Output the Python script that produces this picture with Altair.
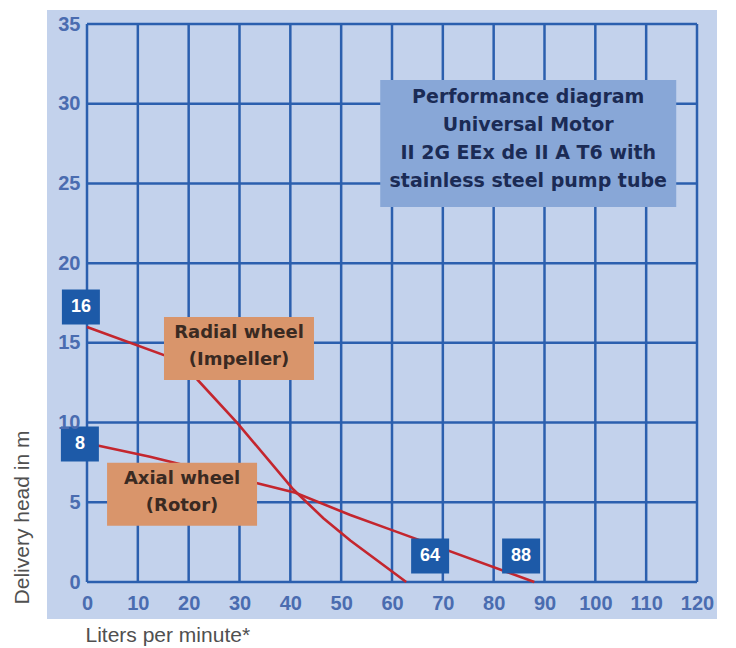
import altair as alt
import pandas as pd

# ---- data ----
radial_flow = [0, 15.4, 21.7, 29.5, 40.6, 46.5, 51.8, 62.8]
radial_head = [16.0, 14.2, 12.7, 10.0, 5.8, 4.0, 2.6, 0.0]
axial_flow = [0, 12.4, 33.5, 41.0, 51.8, 59.6, 88.0]
axial_head = [8.7, 7.85, 6.2, 5.6, 4.2, 3.3, 0.0]

badge_text = ["16", "8", "64", "88"]
badge_flow = [-1.2, -1.4, 67.5, 85.4]
badge_head = [17.25, 8.66, 1.63, 1.63]

label_text = ["Radial wheel\n(Impeller)", "Axial wheel\n(Rotor)"]
label_flow = [29.9, 18.7]
label_head = [14.65, 5.5]

note_text = ["Performance diagram\nUniversal Motor\nII 2G EEx de II A T6 with\nstainless steel pump tube"]
note_flow = [86.8]
note_head = [27.5]

x_ticks = list(range(0, 121, 10))
y_ticks = list(range(0, 36, 5))

# ---- styling ----
GRID = "#2b5fae"
PANEL = "#c3d2ec"
RED = "#c4262e"
BADGE = "#1d5aa8"
ORANGE = "#d9956b"
NOTE = "#88a7d7"

W, H = 610, 558

lines = pd.DataFrame({
    "flow": radial_flow + axial_flow,
    "head": radial_head + axial_head,
    "series": ["Radial wheel"] * len(radial_flow) + ["Axial wheel"] * len(axial_flow),
})
badges = pd.DataFrame({"flow": badge_flow, "head": badge_head, "txt": badge_text})
labels = pd.DataFrame({"flow": label_flow, "head": label_head, "txt": label_text})
note = pd.DataFrame({"flow": note_flow, "head": note_head, "txt": note_text})
xt = pd.DataFrame({"flow": x_ticks})
yt = pd.DataFrame({"head": y_ticks})

xscale = alt.Scale(domain=[0, 120], nice=False, zero=False)
yscale = alt.Scale(domain=[0, 35], nice=False, zero=False)

x_axis = alt.Axis(
    values=x_ticks, grid=False, ticks=False, domain=False, tickSize=0,
    labelFont="Liberation Sans", labelFontWeight="bold", labelFontSize=20,
    labelColor="#4a6cb0", labelPadding=11, labelFlush=False, labelOverlap=False,
    title="Liters per minute*", titleFont="Liberation Sans", titleFontWeight="normal",
    titleFontSize=21, titleColor="#505050", titleX=-2, titleY=53,
    titleAlign="left", titleBaseline="middle", zindex=1,
)
y_axis = alt.Axis(
    values=y_ticks, grid=False, ticks=False, domain=False, tickSize=0,
    labelFont="Liberation Sans", labelFontWeight="bold", labelFontSize=20,
    labelColor="#4a6cb0", labelPadding=7, labelFlush=False, labelOverlap=False,
    title="Delivery head in m", titleFont="Liberation Sans", titleFontWeight="normal",
    titleFontSize=21, titleColor="#505050", titleX=-65, titleY=493, titleAngle=-90,
    titleAlign="center", titleBaseline="middle", zindex=1,
)

X = alt.X("flow:Q", scale=xscale, axis=x_axis)
Y = alt.Y("head:Q", scale=yscale, axis=y_axis)

panel = alt.Chart(pd.DataFrame({"k": [0]})).mark_rect(color=PANEL).encode(
    x=alt.value(-40), x2=alt.value(639), y=alt.value(-14), y2=alt.value(595)
)

vgrid = alt.Chart(xt).mark_rule(color=GRID, strokeWidth=2.5).encode(x=X)
hgrid = alt.Chart(yt).mark_rule(color=GRID, strokeWidth=2.5).encode(y=Y)

curves = alt.Chart(lines).mark_line(color=RED, strokeWidth=2.6).encode(
    x=X, y=Y, detail="series:N"
)

def box(w, h):
    r = h / w
    return f"M-1,-{r:.4f}H1V{r:.4f}H-1Z", w * w

note_shape, note_size = box(296, 127)
note_box = alt.Chart(note).mark_point(
    shape=note_shape, size=note_size, filled=True, color=NOTE, opacity=1, strokeWidth=0
).encode(x=X, y=Y)
note_txt = alt.Chart(note).mark_text(
    font="DejaVu Sans", fontWeight="bold", fontSize=19, lineBreak="\n",
    lineHeight=28, color="#1b2b55", dy=-47, align="center", baseline="middle"
).encode(x=X, y=Y, text="txt:N")

lab_shape, lab_size = box(150, 63)
lab_box = alt.Chart(labels).mark_point(
    shape=lab_shape, size=lab_size, filled=True, color=ORANGE, opacity=1, strokeWidth=0
).encode(x=X, y=Y)
lab_txt = alt.Chart(labels).mark_text(
    font="DejaVu Sans", fontWeight="bold", fontSize=18, lineBreak="\n",
    lineHeight=27, color="#3a2a22", dy=-15, align="center", baseline="middle"
).encode(x=X, y=Y, text="txt:N")

b_shape, b_size = box(38, 35)
badge_box = alt.Chart(badges).mark_point(
    shape=b_shape, size=b_size, filled=True, color=BADGE, opacity=1, strokeWidth=0
).encode(x=X, y=Y)
badge_txt = alt.Chart(badges).mark_text(
    font="Liberation Sans", fontWeight="bold", fontSize=18, color="white",
    align="center", baseline="middle"
).encode(x=X, y=Y, text="txt:N")

chart = alt.layer(
    panel, vgrid, hgrid, curves, note_box, note_txt, lab_box, lab_txt, badge_box, badge_txt
).properties(
    width=W, height=H,
    autosize=alt.AutoSizeParams(type="none"),
    padding={"left": 79, "top": 16, "right": 20, "bottom": 66},
).configure_view(stroke=None, fill=None).configure(background="white")

chart.save("out.html", embed_options={"renderer": "svg", "actions": False})
